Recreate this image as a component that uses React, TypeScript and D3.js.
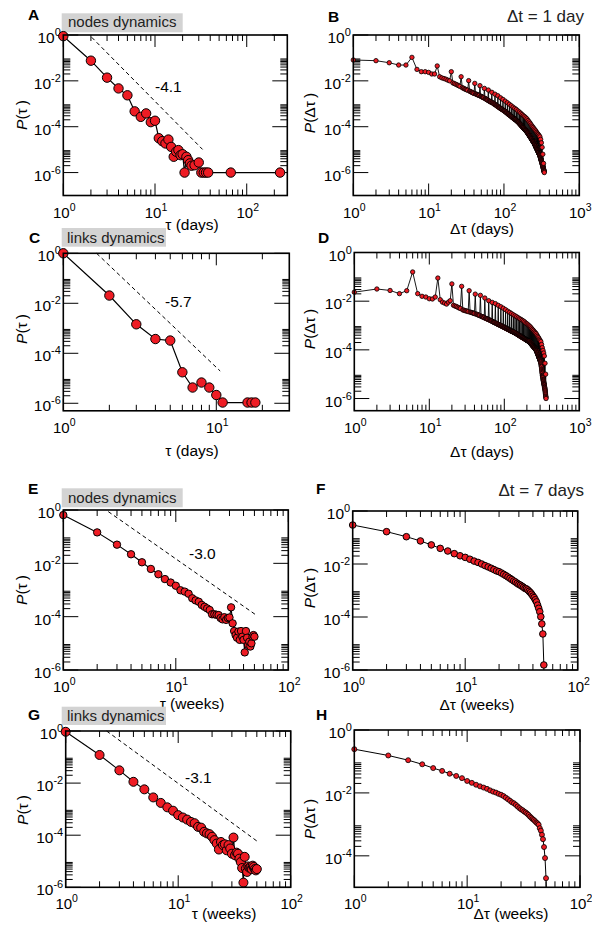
import React from 'react';
import * as d3 from 'd3';

// ---------------- DATA (values are log10 of P) ----------------
// A: nodes dynamics, Δt = 1 day
const aTau = [1,2,3,4,5,6,7,8,9,10,11,12,13,14,15,16,17,18,19,20,21,22,23,24,25,27,30,32,34,36,38,67,231];
const aLogP = [-0.05,-1.12,-1.86,-2.33,-2.63,-3.33,-3.57,-3.42,-3.8,-3.74,-4.5,-4.63,-4.73,-4.56,-4.88,-5.31,-5.09,-5.02,-5.24,-5.2,-6.0,-5.31,-5.46,-5.6,-5.7,-5.68,-5.56,-6.0,-6.0,-6.0,-6.0,-6.0,-6.0];
const aGuideTau = [2.04, 33];
const aGuideLogP = [-0.1, -4.99];

// C: links dynamics, Δt = 1 day
const cTau = [1,2,3,4,5,6,7,8,9,10,11,16,17,18];
const cLogP = [0,-1.69,-2.84,-3.43,-3.49,-4.76,-5.37,-5.17,-5.37,-5.67,-5.97,-5.97,-5.97,-5.97];
const cGuideTau = [1.65, 10.6];
const cGuideLogP = [0, -4.71];

// B: P(Δτ) nodes, days 1..343
const bLogP = [
-1.09,-1.12,-1.21,-1.31,-1.31,-0.975,-1.5,
-1.6,-1.6,-1.63,-1.7,-1.7,-1.35,-1.82,
-1.87,-1.9,-1.93,-1.97,-2.0,-1.6,-2.09,
-2.12,-2.15,-2.18,-2.21,-2.24,-1.82,-2.3,
-2.32,-2.35,-2.37,-2.39,-2.41,-1.99,-2.45,
-2.47,-2.49,-2.51,-2.53,-2.55,-2.11,-2.57,
-2.58,-2.6,-2.61,-2.63,-2.64,-2.21,-2.67,
-2.68,-2.7,-2.71,-2.73,-2.74,-2.33,-2.77,
-2.78,-2.8,-2.81,-2.83,-2.85,-2.4,-2.87,
-2.88,-2.9,-2.91,-2.92,-2.93,-2.5,-2.95,
-2.96,-2.98,-2.99,-3.01,-3.02,-2.58,-3.04,
-3.05,-3.07,-3.08,-3.1,-3.11,-2.65,-3.13,
-3.14,-3.15,-3.17,-3.18,-3.19,-2.74,-3.21,
-3.22,-3.23,-3.24,-3.25,-3.26,-2.81,-3.28,
-3.29,-3.3,-3.31,-3.32,-3.33,-2.885,-3.35,
-3.36,-3.37,-3.38,-3.39,-3.41,-2.955,-3.43,
-3.44,-3.45,-3.46,-3.47,-3.48,-3.02,-3.49,
-3.5,-3.51,-3.52,-3.53,-3.54,-3.085,-3.56,
-3.57,-3.58,-3.59,-3.6,-3.61,-3.145,-3.62,
-3.63,-3.64,-3.65,-3.66,-3.67,-3.2,-3.67,
-3.68,-3.69,-3.7,-3.71,-3.72,-3.25,-3.73,
-3.74,-3.75,-3.76,-3.77,-3.78,-3.31,-3.79,
-3.8,-3.81,-3.82,-3.83,-3.85,-3.36,-3.86,
-3.87,-3.88,-3.89,-3.9,-3.91,-3.415,-3.93,
-3.94,-3.95,-3.96,-3.97,-3.98,-3.47,-3.99,
-4.0,-4.01,-4.02,-4.03,-4.04,-3.52,-4.05,
-4.06,-4.07,-4.08,-4.09,-4.1,-3.56,-4.11,
-4.12,-4.13,-4.14,-4.15,-4.16,-3.61,-4.17,
-4.18,-4.19,-4.2,-4.21,-4.22,-3.66,-4.23,
-4.24,-4.25,-4.26,-4.28,-4.29,-3.73,-4.31,
-4.32,-4.33,-4.34,-4.35,-4.36,-3.79,-4.38,
-4.39,-4.4,-4.41,-4.42,-4.43,-3.85,-4.45,
-4.46,-4.47,-4.48,-4.49,-4.5,-3.92,-4.52,
-4.53,-4.54,-4.55,-4.56,-4.57,-3.98,-4.59,
-4.6,-4.61,-4.62,-4.63,-4.64,-4.03,-4.65,
-4.66,-4.67,-4.68,-4.69,-4.7,-4.09,-4.72,
-4.73,-4.74,-4.76,-4.77,-4.78,-4.14,-4.8,
-4.81,-4.83,-4.84,-4.85,-4.86,-4.19,-4.89,
-4.9,-4.91,-4.92,-4.93,-4.95,-4.25,-4.96,
-4.97,-4.98,-5.0,-5.01,-5.02,-4.3,-5.04,
-5.05,-5.06,-5.07,-5.09,-5.1,-4.34,-5.12,
-5.13,-5.14,-5.15,-5.16,-5.17,-4.39,-5.19,
-5.2,-5.21,-5.22,-5.23,-5.25,-4.44,-5.27,
-5.29,-5.31,-5.33,-5.35,-5.37,-4.55,-5.39,
-5.41,-5.43,-5.45,-5.46,-5.48,-4.7,-5.5,
-5.52,-5.53,-5.55,-5.57,-5.59,-4.9,-5.62,
-5.64,-5.65,-5.67,-5.69,-5.7,-5.2,-5.73,
-5.75,-5.77,-5.79,-5.81,-5.83,-5.6,-5.86,
-5.88,-5.9,-5.92,-5.94,-5.96,-5.95,-6.0
];

// D: P(Δτ) links, days 1..360
const dLogP = [
-1.63,-1.5,-1.56,-1.69,-1.57,-0.8,-1.69,
-1.8,-1.83,-1.9,-1.91,-1.83,-1.05,-1.94,
-2.04,-2.08,-2.12,-2.04,-1.98,-1.29,-2.17,
-2.2,-2.22,-2.25,-2.28,-2.3,-1.39,-2.36,
-2.37,-2.39,-2.4,-2.41,-2.43,-1.57,-2.45,
-2.46,-2.47,-2.48,-2.5,-2.51,-1.71,-2.53,
-2.54,-2.55,-2.57,-2.58,-2.59,-1.76,-2.62,
-2.63,-2.64,-2.65,-2.66,-2.68,-1.87,-2.7,
-2.71,-2.72,-2.73,-2.74,-2.75,-1.98,-2.77,
-2.78,-2.79,-2.8,-2.81,-2.82,-2.05,-2.84,
-2.85,-2.86,-2.87,-2.88,-2.89,-2.1,-2.9,
-2.91,-2.92,-2.93,-2.94,-2.95,-2.17,-2.96,
-2.97,-2.98,-2.98,-2.99,-3.0,-2.23,-3.01,
-3.02,-3.03,-3.04,-3.05,-3.05,-2.29,-3.06,
-3.07,-3.08,-3.09,-3.09,-3.1,-2.35,-3.11,
-3.12,-3.12,-3.13,-3.14,-3.15,-2.41,-3.15,
-3.16,-3.17,-3.17,-3.18,-3.19,-2.46,-3.2,
-3.2,-3.21,-3.22,-3.22,-3.23,-2.51,-3.23,
-3.24,-3.25,-3.25,-3.26,-3.26,-2.56,-3.27,
-3.28,-3.28,-3.29,-3.29,-3.3,-2.6,-3.31,
-3.31,-3.32,-3.32,-3.33,-3.34,-2.64,-3.34,
-3.35,-3.36,-3.36,-3.37,-3.38,-2.68,-3.38,
-3.39,-3.4,-3.4,-3.41,-3.42,-2.72,-3.42,
-3.43,-3.43,-3.44,-3.45,-3.45,-2.75,-3.45,
-3.46,-3.47,-3.47,-3.48,-3.48,-2.79,-3.49,
-3.5,-3.5,-3.51,-3.51,-3.52,-2.82,-3.52,
-3.53,-3.53,-3.54,-3.54,-3.55,-2.86,-3.55,
-3.56,-3.56,-3.57,-3.57,-3.58,-2.91,-3.58,
-3.59,-3.59,-3.6,-3.6,-3.61,-2.94,-3.61,
-3.62,-3.62,-3.63,-3.63,-3.64,-2.98,-3.64,
-3.65,-3.65,-3.66,-3.66,-3.67,-3.02,-3.67,
-3.68,-3.69,-3.7,-3.7,-3.71,-3.06,-3.72,
-3.73,-3.74,-3.75,-3.75,-3.76,-3.11,-3.77,
-3.78,-3.79,-3.8,-3.8,-3.81,-3.16,-3.82,
-3.83,-3.84,-3.84,-3.85,-3.86,-3.2,-3.86,
-3.87,-3.88,-3.89,-3.89,-3.9,-3.25,-3.91,
-3.91,-3.92,-3.93,-3.93,-3.94,-3.29,-3.95,
-3.96,-3.97,-3.98,-3.99,-4.0,-3.33,-4.0,
-4.02,-4.03,-4.04,-4.06,-4.07,-3.39,-4.09,
-4.1,-4.11,-4.13,-4.14,-4.15,-3.45,-4.18,
-4.19,-4.2,-4.22,-4.23,-4.24,-3.5,-4.27,
-4.28,-4.29,-4.31,-4.32,-4.33,-3.56,-4.35,
-4.36,-4.37,-4.39,-4.4,-4.41,-3.61,-4.44,
-4.45,-4.46,-4.48,-4.5,-4.51,-3.66,-4.55,
-4.58,-4.61,-4.65,-4.68,-4.71,-3.78,-4.78,
-4.81,-4.85,-4.89,-4.93,-4.97,-3.91,-5.03,
-5.05,-5.08,-5.1,-5.13,-5.15,-4.02,-5.2,
-5.22,-5.24,-5.26,-5.29,-5.31,-4.13,-5.35,
-5.37,-5.39,-5.42,-5.44,-5.46,-4.25,-5.51,
-5.53,-5.55,-5.57,-5.6,-5.62,-4.55,-5.66,
-5.69,-5.73,-5.77,-5.81,-5.85,-5.0,-5.9,
-5.93,-5.96,-6.0
];

// E: nodes dynamics, Δt = 7 days (weeks 1..50)
const eLogP = [-0.19,-0.84,-1.3,-1.66,-1.96,-2.21,-2.41,-2.59,-2.72,-2.84,
-3.01,-3.06,-3.14,-3.31,-3.39,-3.44,-3.56,-3.63,-3.69,-3.75,
-3.91,-3.91,-3.93,-3.94,-4.05,-4.1,-4.02,-4.12,-4.05,-4.03,
-3.65,-4.25,-4.54,-4.69,-4.79,-4.56,-4.87,-4.54,-4.75,-4.87,
-5.34,-4.54,-4.79,-5.06,-4.94,-5.12,-5.0,-4.75,-4.69,-4.75];
const eGuideTau = [2.51, 50.6];
const eGuideLogP = [-0.06, -3.91];

// F: P(Δτ) nodes, weeks 1..50
const fLogP = [-0.53,-0.78,-0.97,-1.13,-1.28,-1.41,-1.51,-1.61,-1.69,-1.75,
-1.82,-1.89,-1.94,-2.0,-2.06,-2.11,-2.16,-2.21,-2.26,-2.29,
-2.34,-2.39,-2.44,-2.49,-2.54,-2.59,-2.64,-2.68,-2.73,-2.77,
-2.8,-2.84,-2.88,-2.92,-2.94,-2.98,-3.03,-3.08,-3.14,-3.21,
-3.27,-3.35,-3.43,-3.55,-3.67,-3.8,-3.99,-4.26,-4.64,-5.81];

// G: links dynamics, weeks 1..50
const gLogP = [-0.03,-0.92,-1.51,-1.95,-2.24,-2.55,-2.76,-2.93,-3.06,-3.23,
-3.32,-3.4,-3.49,-3.54,-3.68,-3.71,-3.87,-3.93,-3.96,-4.06,
-4.19,-4.32,-4.55,-4.26,-4.38,-4.35,-4.58,-4.38,-4.51,-4.71,
-4.09,-4.77,-4.67,-4.71,-4.9,-5.03,-5.26,-5.82,-4.83,-5.28,
-5.41,-5.2,-5.25,-5.22,-5.3,-5.17,-5.22,-5.3,-5.35,-5.3];
const gGuideTau = [2.31, 49.9];
const gGuideLogP = [0, -4.22];

// H: P(Δτ) links, weeks 1..51
const hLogP = [-0.61,-0.81,-0.96,-1.09,-1.21,-1.3,-1.39,-1.46,-1.53,-1.62,
-1.68,-1.74,-1.79,-1.83,-1.87,-1.92,-1.96,-1.99,-2.03,-2.06,
-2.1,-2.15,-2.2,-2.25,-2.3,-2.33,-2.38,-2.43,-2.48,-2.52,
-2.55,-2.59,-2.62,-2.66,-2.7,-2.75,-2.79,-2.83,-2.86,-2.9,
-2.94,-2.97,-3.01,-3.12,-3.2,-3.33,-3.47,-3.72,-4.07,-4.71,-5.8];

// tick values
const xTicksDays = [1, 10, 100];
const xTicksDelta = [1, 10, 100, 1000];
const xTicksShort = [1, 10];
const xTicksWeeks = [1, 10, 100];
const yTicks6 = [1, 1e-2, 1e-4, 1e-6];
const yTicks4 = [1, 1e-2, 1e-4];

const boxLabels = ['nodes dynamics', 'links dynamics'];
const slopeLabels = ['-4.1', '-5.7', '-3.0', '-3.1'];
const dtLabels = ['\u0394t = 1 day', '\u0394t = 7 days'];

// ---------------- LAYOUT ----------------
const FONT = "'Liberation Sans', Arial, Helvetica, sans-serif";
const RED = '#ee1c24';

const seq = (n: number) => Array.from({ length: n }, (_, i) => i + 1);

type Spec = {
  id: string;
  left: number; right: number; top: number; bottom: number;
  xDomain: [number, number]; yDomain: [number, number];
  xs: number[]; logP: number[];
  xTicks: number[]; yTicks: number[];
  r: number; lw: number;
  xTitle: string; xTitleX: number; xTitleY: number;
  yTitle: string; yTitleX: number; yTitleY: number;
  letterX: number; letterY: number;
  guide?: { xs: number[]; logP: number[]; label: string; lx: number; ly: number };
  box?: { text: string; x0: number; x1: number; y0: number; y1: number; tx: number; ty: number };
  dt?: { text: string; x: number; y: number };
};

const specs: Spec[] = [
  { id: 'A', left: 63.3, right: 287.3, top: 35, bottom: 195.5, xDomain: [1, 277], yDomain: [1e-7, 1],
    xs: aTau, logP: aLogP, xTicks: xTicksDays, yTicks: yTicks6, r: 4.7, lw: 1.2,
    xTitle: '\u03c4 (days)', xTitleX: 192, xTitleY: 230, yTitle: '\u03c4', yTitleX: 22, yTitleY: 115,
    letterX: 28, letterY: 20,
    guide: { xs: aGuideTau, logP: aGuideLogP, label: slopeLabels[0], lx: 155, ly: 92 },
    box: { text: boxLabels[0], x0: 61.7, x1: 182.7, y0: 13.3, y1: 32.3, tx: 68, ty: 27 },
    dt: { text: dtLabels[0], x: 584, y: 22 } },
  { id: 'B', left: 353.3, right: 579.3, top: 35, bottom: 195.5, xDomain: [1, 1000], yDomain: [1e-7, 1],
    xs: seq(bLogP.length), logP: bLogP, xTicks: xTicksDelta, yTicks: yTicks6, r: 2.2, lw: 0.9,
    xTitle: '\u0394\u03c4 (days)', xTitleX: 482, xTitleY: 234, yTitle: '\u0394\u03c4', yTitleX: 310, yTitleY: 113,
    letterX: 328, letterY: 21.7 },
  { id: 'C', left: 63.3, right: 289.3, top: 253.3, bottom: 410.8, xDomain: [1, 30], yDomain: [5e-7, 1],
    xs: cTau, logP: cLogP, xTicks: xTicksShort, yTicks: yTicks6, r: 4.7, lw: 1.2,
    xTitle: '\u03c4 (days)', xTitleX: 192, xTitleY: 456, yTitle: '\u03c4', yTitleX: 22, yTitleY: 329,
    letterX: 29, letterY: 243.3,
    guide: { xs: cGuideTau, logP: cGuideLogP, label: slopeLabels[1], lx: 165, ly: 307 },
    box: { text: boxLabels[1], x0: 61.7, x1: 166, y0: 228, y1: 246.7, tx: 67, ty: 242.7 } },
  { id: 'D', left: 354.3, right: 579.3, top: 252.5, bottom: 410.7, xDomain: [1, 1000], yDomain: [Math.pow(10, -6.5), 1],
    xs: seq(dLogP.length), logP: dLogP, xTicks: xTicksDelta, yTicks: yTicks6, r: 2.2, lw: 0.9,
    xTitle: '\u0394\u03c4 (days)', xTitleX: 482, xTitleY: 457, yTitle: '\u0394\u03c4', yTitleX: 310, yTitleY: 329,
    letterX: 318, letterY: 243.3 },
  { id: 'E', left: 63.3, right: 288.3, top: 510, bottom: 670, xDomain: [1, 100], yDomain: [1e-6, 1],
    xs: seq(eLogP.length), logP: eLogP, xTicks: xTicksWeeks, yTicks: yTicks6, r: 3.7, lw: 1.1,
    xTitle: '\u03c4 (weeks)', xTitleX: 192, xTitleY: 709, yTitle: '\u03c4', yTitleX: 22, yTitleY: 590,
    letterX: 28, letterY: 494,
    guide: { xs: eGuideTau, logP: eGuideLogP, label: slopeLabels[2], lx: 189, ly: 559 },
    box: { text: boxLabels[0], x0: 61.7, x1: 182.7, y0: 488.3, y1: 507.3, tx: 68, ty: 503 },
    dt: { text: dtLabels[1], x: 584, y: 496 } },
  { id: 'F', left: 352.7, right: 577.7, top: 511, bottom: 670, xDomain: [1, 100], yDomain: [1e-6, 1],
    xs: seq(fLogP.length), logP: fLogP, xTicks: xTicksWeeks, yTicks: yTicks6, r: 3.3, lw: 1,
    xTitle: '\u0394\u03c4 (weeks)', xTitleX: 477, xTitleY: 710, yTitle: '\u0394\u03c4', yTitleX: 310, yTitleY: 588,
    letterX: 316, letterY: 494 },
  { id: 'G', left: 65.7, right: 290.7, top: 731, bottom: 887.3, xDomain: [1, 100], yDomain: [1e-6, 1],
    xs: seq(gLogP.length), logP: gLogP, xTicks: xTicksWeeks, yTicks: yTicks6, r: 4.5, lw: 1.1,
    xTitle: '\u03c4 (weeks)', xTitleX: 224, xTitleY: 919, yTitle: '\u03c4', yTitleX: 23, yTitleY: 810,
    letterX: 28, letterY: 720,
    guide: { xs: gGuideTau, logP: gGuideLogP, label: slopeLabels[3], lx: 185, ly: 783 },
    box: { text: boxLabels[1], x0: 61.7, x1: 166, y0: 706.7, y1: 725, tx: 67, ty: 720.5 } },
  { id: 'H', left: 354.3, right: 580, top: 730, bottom: 887.3, xDomain: [1, 100], yDomain: [1e-5, 1],
    xs: seq(hLogP.length), logP: hLogP, xTicks: xTicksWeeks, yTicks: yTicks4, r: 2.5, lw: 1,
    xTitle: '\u0394\u03c4 (weeks)', xTitleX: 511, xTitleY: 919, yTitle: '\u0394\u03c4', yTitleX: 310, yTitleY: 819,
    letterX: 316, letterY: 720 },
];

function expOf(v: number) {
  return Math.round(Math.log10(v));
}

function Panel({ s }: { s: Spec }) {
  const x = d3.scaleLog().domain(s.xDomain).range([s.left, s.right]);
  const y = d3.scaleLog().domain(s.yDomain).range([s.bottom, s.top]);
  const pts: [number, number][] = s.xs.map((xv, i) => [x(xv), y(Math.pow(10, s.logP[i]))]);
  const path = d3.line()(pts) || '';
  const clipId = 'clip' + s.id;

  const xMinor: number[] = [];
  const lo = Math.floor(Math.log10(s.xDomain[0]));
  const hi = Math.ceil(Math.log10(s.xDomain[1]));
  for (let e = lo; e <= hi; e++) for (let k = 2; k <= 9; k++) {
    const v = k * Math.pow(10, e);
    if (v > s.xDomain[0] && v < s.xDomain[1]) xMinor.push(v);
  }
  const yMinor: number[] = [];
  s.yTicks.forEach((t) => { for (let k = 2; k <= 9; k++) { const v = k * t; if (v > s.yDomain[0] && v < s.yDomain[1]) yMinor.push(v); } });

  const XM = 12, Xm = 6, YM = 15, Ym = 7;
  const tk = { stroke: '#000', strokeWidth: 1 };

  let guide = null;
  if (s.guide) {
    const g = s.guide;
    const gp: [number, number][] = g.xs.map((xv, i) => [x(xv), y(Math.pow(10, g.logP[i]))]);
    guide = (
      <g>
        <path d={d3.line()(gp) || ''} stroke="#000" strokeWidth={1} strokeDasharray="4,3" fill="none" />
        <text x={g.lx} y={g.ly} fontSize={15.5}>{g.label}</text>
      </g>
    );
  }

  return (
    <g fontFamily={FONT}>
      <defs>
        <clipPath id={clipId}>
          <rect x={s.left} y={s.top - 6} width={s.right - s.left} height={s.bottom - s.top + 6} />
        </clipPath>
      </defs>
      {s.box && (
        <g>
          <rect x={s.box.x0} y={s.box.y0} width={s.box.x1 - s.box.x0} height={s.box.y1 - s.box.y0} fill="#d3d3d3" />
          <text x={s.box.tx} y={s.box.ty} fontSize={15} fill="#222">{s.box.text}</text>
        </g>
      )}
      {s.dt && <text x={s.dt.x} y={s.dt.y} fontSize={17} textAnchor="end" fill="#222">{s.dt.text}</text>}
      <text x={s.letterX} y={s.letterY} fontSize={15.5} fontWeight="bold">{s.id}</text>

      {s.xTicks.map((t) => (
        <g key={'xM' + t}>
          <line x1={x(t)} x2={x(t)} y1={s.bottom} y2={s.bottom - XM} {...tk} />
          <line x1={x(t)} x2={x(t)} y1={s.top} y2={s.top + XM} {...tk} />
          <text x={x(t) + 1} y={s.bottom + 22} fontSize={15} textAnchor="middle">
            10<tspan fontSize={10.5} dy={-7}>{expOf(t)}</tspan>
          </text>
        </g>
      ))}
      {xMinor.map((t) => (
        <g key={'xm' + t}>
          <line x1={x(t)} x2={x(t)} y1={s.bottom} y2={s.bottom - Xm} {...tk} />
          <line x1={x(t)} x2={x(t)} y1={s.top} y2={s.top + Xm} {...tk} />
        </g>
      ))}
      {s.yTicks.map((t) => (
        <g key={'yM' + t}>
          <line x1={s.left} x2={s.left + YM} y1={y(t)} y2={y(t)} {...tk} />
          <line x1={s.right} x2={s.right - YM} y1={y(t)} y2={y(t)} {...tk} />
          <text x={s.left - 2.5} y={y(t) + 8} fontSize={15.5} textAnchor="end">
            10<tspan fontSize={11} dy={-7}>{expOf(t)}</tspan>
          </text>
        </g>
      ))}
      {yMinor.map((t) => (
        <g key={'ym' + t}>
          <line x1={s.left} x2={s.left + Ym} y1={y(t)} y2={y(t)} {...tk} />
          <line x1={s.right} x2={s.right - Ym} y1={y(t)} y2={y(t)} {...tk} />
        </g>
      ))}

      {guide}

      <g clipPath={`url(#${clipId})`}>
        <path d={path} fill="none" stroke="#000" strokeWidth={s.lw} />
      </g>
      <g>
        {pts.map((p, i) => (
          p[1] <= s.bottom + 0.5 ? <circle key={i} cx={p[0]} cy={p[1]} r={s.r} fill={RED} stroke="#000" strokeWidth={s.r > 3 ? 1 : 0.8} /> : null
        ))}
      </g>

      <rect x={s.left} y={s.top} width={s.right - s.left} height={s.bottom - s.top} fill="none" stroke="#000" strokeWidth={1.6} />

      <text x={s.xTitleX} y={s.xTitleY} fontSize={15.5} textAnchor="middle">{s.xTitle}</text>
      <text transform={`translate(${s.yTitleX},${s.yTitleY}) rotate(-90)`} fontSize={15.5} textAnchor="middle" dy="0.35em">
        <tspan fontStyle="italic">P</tspan>({s.yTitle}{'\u2009'})
      </text>
    </g>
  );
}

export default function App() {
  return (
    <svg width={592} height={928} style={{ position: 'absolute', left: 0, top: 0, background: '#fff' }}>
      <rect x={0} y={0} width={592} height={928} fill="#fff" />
      {specs.map((s) => <Panel key={s.id} s={s} />)}
    </svg>
  );
}
